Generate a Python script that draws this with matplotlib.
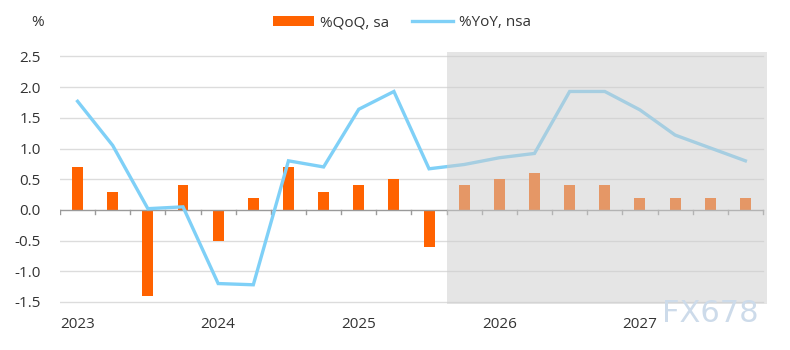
import matplotlib
matplotlib.use("Agg")
import matplotlib.pyplot as plt
from matplotlib.patches import Rectangle
import matplotlib.transforms as mtransforms
import numpy as np

plt.rcParams['font.family'] = ['Open Sans', 'DejaVu Sans']

years = ["2023", "2024", "2025", "2026", "2027"]
qoq = [0.7, 0.3, -1.4, 0.4, -0.5, 0.2, 0.7, 0.3, 0.4, 0.5, -0.6,
       0.4, 0.5, 0.6, 0.4, 0.4, 0.2, 0.2, 0.2, 0.2]
yoy = [1.77, 1.05, 0.02, 0.05, -1.2, -1.22, 0.8, 0.7, 1.64, 1.93, 0.67,
       0.74, 0.85, 0.92, 1.93, 1.93, 1.63, 1.22, 1.01, 0.8]
forecast_start = 11  # first forecast quarter index
yticks = [-1.5, -1.0, -0.5, 0.0, 0.5, 1.0, 1.5, 2.0, 2.5]

W, H = 790, 350
fig = plt.figure(figsize=(W/100, H/100), dpi=100)
ax = fig.add_axes([60/W, 1-303.8/H, 707/W, (303.8-52.2)/H])

n = len(qoq)
x = np.arange(n)
xmin, xmax = -0.5, n - 0.5
ax.set_xlim(xmin, xmax + 0.115)
ax.set_ylim(-1.53, 2.57)

for s in ax.spines.values():
    s.set_visible(False)

# gridlines
for yv in yticks:
    if yv == 0:
        continue
    ax.plot([xmin, xmax], [yv, yv], color='#dcdcdc', lw=1.0, zorder=1)

# zero axis line with ticks at quarter boundaries
ax.plot([xmin, xmax], [0, 0], color='#9a9a9a', lw=1.0, zorder=3)
for b in np.arange(xmin, xmax + 0.01, 1.0):
    ax.plot([b, b], [0, -0.07], color='#9a9a9a', lw=1.0, zorder=3)

bars = ax.bar(x, qoq, width=0.31, color='#ff6200', zorder=2, label='%QoQ, sa')
line, = ax.plot(x, yoy, color='#7fd0f7', lw=2.4, zorder=4, label='%YoY, nsa',
                solid_joinstyle='miter')

# forecast overlay
ax.add_patch(Rectangle((forecast_start - 0.5, -1.53), xmax + 0.115 - (forecast_start - 0.5), 4.1,
                       facecolor=(205/255, 205/255, 205/255), alpha=0.5,
                       edgecolor='none', zorder=5))

ax.set_yticks(yticks)
ax.set_yticklabels([f"{v:.1f}" for v in yticks], fontsize=11, color='#333333')
ax.tick_params(axis='y', length=0, pad=14)
ax.set_xticks([])

trans = mtransforms.blended_transform_factory(ax.transData, fig.transFigure)
for i, yr in enumerate(years):
    ax.text(i * 4, 1 - 325/H, yr, transform=trans, ha='center', va='center',
            fontsize=11, color='#333333')

fig.text(38/W, 1 - 22/H, '%', ha='center', va='center', fontsize=11, color='#333333')

fig.legend(handles=[bars, line], loc='center', bbox_to_anchor=(402/W, 1 - 23/H),
           ncol=2, frameon=False,
           fontsize=11, handlelength=2.65, handleheight=0.55, columnspacing=1.5,
           handletextpad=0.4, labelcolor='#333333')

fig.text(662/W, 1 - 314/H, 'FX678', ha='left', va='center', fontsize=22,
         family='DejaVu Sans', color='#cddbea', zorder=10)

fig.savefig('out.png', dpi=100)
